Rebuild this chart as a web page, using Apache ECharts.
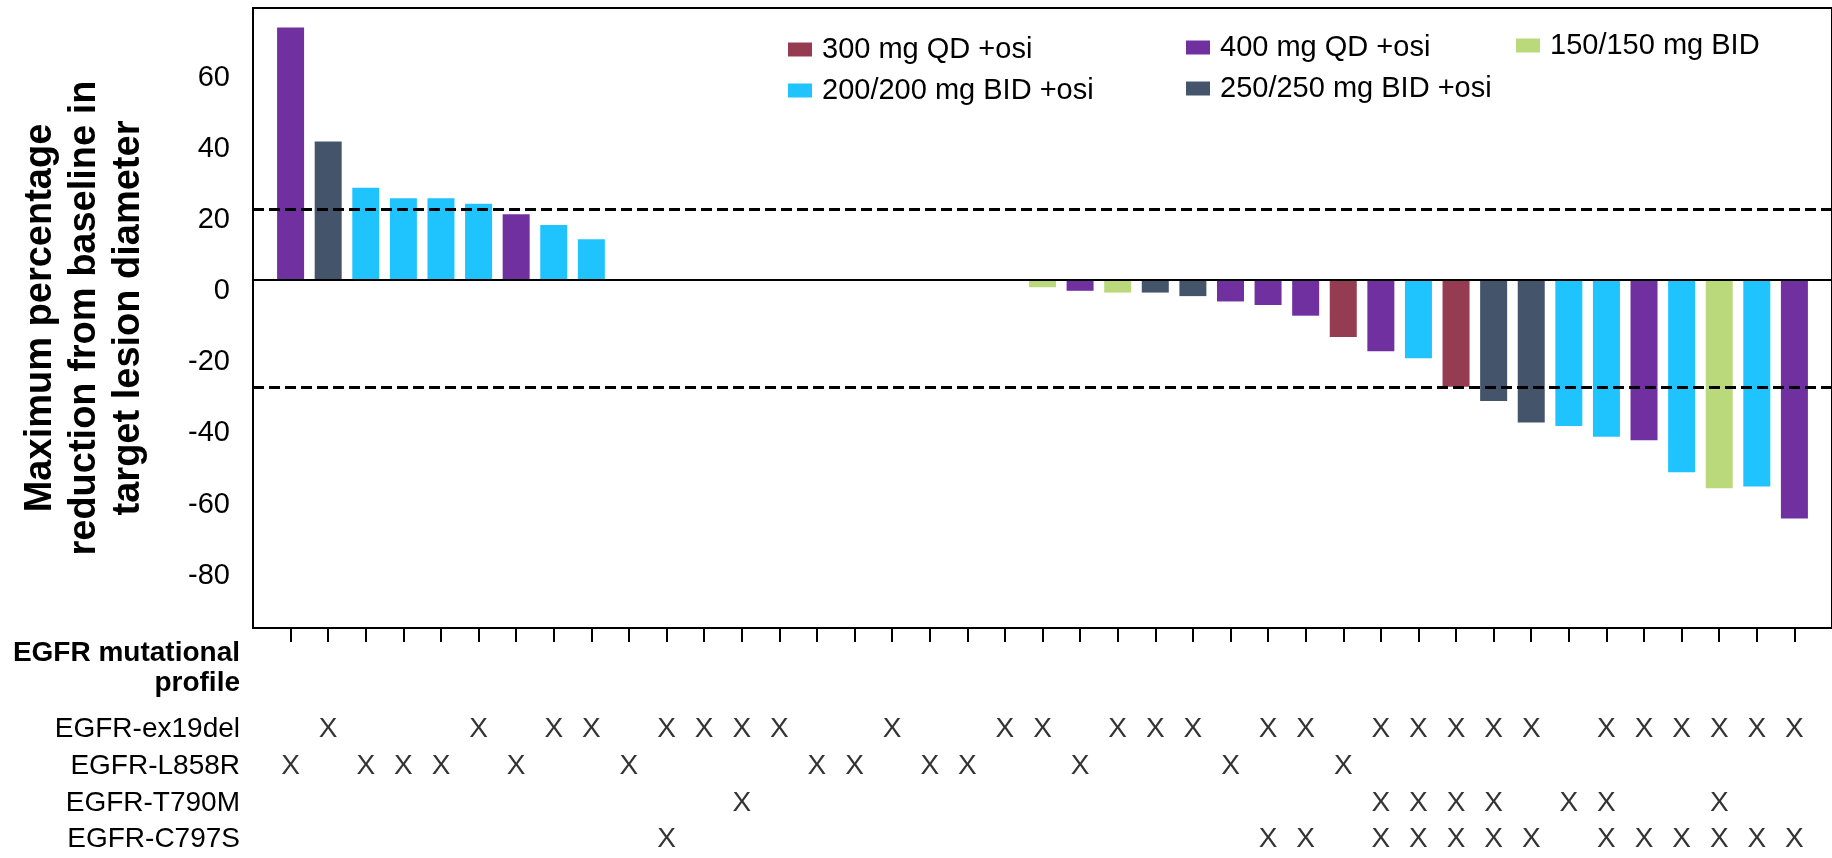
<!DOCTYPE html>
<html>
<head>
<meta charset="utf-8">
<style>
  html, body { margin: 0; padding: 0; background: #fff; }
  #chart { width: 1832px; height: 858px; }
</style>
<script src="https://cdn.jsdelivr.net/npm/echarts@6.0.0/dist/echarts.min.js"></script>
</head>
<body>
<div id="chart"></div>
<script>
// Dose cohorts, in legend order
const doseGroups = [
  '300 mg QD +osi',
  '400 mg QD +osi',
  '150/150 mg BID',
  '200/200 mg BID +osi',
  '250/250 mg BID +osi'
];

// Cohort of each patient (index into doseGroups, -1 = no bar plotted)
const patientDose = [
  1, 4, 3, 3, 3, 3, 1, 3, 3,
  -1, -1, -1, -1, -1, -1, -1, -1, -1, -1, -1,
  2, 1, 2, 4, 4, 1, 1, 1, 0, 1, 3, 0, 4, 4, 3, 3, 1, 3, 2, 3, 1
];

// Best change from baseline in target lesion diameter (%)
const maxChange = [
  71, 39, 26, 23, 23, 21.5, 18.5, 15.5, 11.5,
  null, null, null, null, null, null, null, null, null, null, null,
  -2, -3, -3.5, -3.5, -4.5, -6, -7, -10, -16, -20, -22, -30, -34, -40,
  -41, -44, -45, -54, -58.5, -58, -67
];

// Value-axis tick labels and RECIST reference lines
const yTickValues = [-80, -60, -40, -20, 0, 20, 40, 60];
const responseCutoffs = [20, -30];

// EGFR mutational profile, rows and carriers (0-based patient positions)
const mutationRows = ['EGFR-ex19del', 'EGFR-L858R', 'EGFR-T790M', 'EGFR-C797S'];
const ex19delCarriers = [1, 5, 7, 8, 10, 11, 12, 13, 16, 19, 20, 22, 23, 24, 26, 27, 29, 30, 31, 32, 33, 35, 36, 37, 38, 39, 40];
const l858rCarriers = [0, 2, 3, 4, 6, 9, 14, 15, 17, 18, 21, 25, 28];
const t790mCarriers = [12, 29, 30, 31, 32, 34, 35, 38];
const c797sCarriers = [10, 26, 27, 29, 30, 31, 32, 33, 35, 36, 37, 38, 39, 40];

// ---- styling ----
const FONT = '"Liberation Sans", Arial, Helvetica, sans-serif';
const groupColors = ['#963C52', '#7030A0', '#BAD97A', '#1FC4FE', '#44546A'];

const patients = maxChange.map((_, i) => 'Patient ' + (i + 1));
// an empty slot at each end keeps the first and last patient one step inside the frame
const slots = [''].concat(patients, ['']);

const carriersByRow = [ex19delCarriers, l858rCarriers, t790mCarriers, c797sCarriers];
const mutationPoints = [];
carriersByRow.forEach((list, r) => {
  list.forEach(p => mutationPoints.push([p + 1, r]));
});

const barSeries = doseGroups.map((name, g) => {
  const values = maxChange.map((v, i) => (patientDose[i] === g && v !== null ? v : '-'));
  return {
    name: name,
    type: 'bar',
    xAxisIndex: 0,
    yAxisIndex: 0,
    stack: 'dose',
    barWidth: 27,
    itemStyle: { color: groupColors[g] },
    data: ['-'].concat(values, ['-'])
  };
});

barSeries[0].markLine = {
  silent: true,
  symbol: 'none',
  label: { show: false },
  z: 10,
  data: [
    { yAxis: 0, lineStyle: { color: '#000', width: 2, type: 'solid' } }
  ].concat(responseCutoffs.map(v => ({
    yAxis: v,
    lineStyle: { color: '#000', width: 3, type: [11, 5] }
  })))
};

const legendCommon = {
  orient: 'vertical',
  icon: 'rect',
  itemWidth: 24,
  itemHeight: 14,
  itemGap: 12,
  selectedMode: false,
  textStyle: { fontSize: 29, color: '#000', fontFamily: FONT, padding: [0, 0, 0, 5] }
};

const option = {
  animation: false,
  backgroundColor: '#fff',
  textStyle: { fontFamily: FONT },
  legend: [
    Object.assign({ left: 783, top: 30, data: [doseGroups[0], doseGroups[3]] }, legendCommon),
    Object.assign({ left: 1181, top: 28, data: [doseGroups[1], doseGroups[4]] }, legendCommon),
    Object.assign({ left: 1511, top: 26, data: [doseGroups[2]] }, legendCommon)
  ],
  grid: [
    { left: 253, right: -19, top: 8, bottom: 230, show: true, borderColor: '#000', borderWidth: 2, backgroundColor: 'transparent' },
    { left: 253, right: -19, top: 711, bottom: -11 }
  ],
  xAxis: [
    {
      type: 'category', gridIndex: 0, data: slots, boundaryGap: false, position: 'bottom',
      axisLine: { show: false, onZero: false },
      axisLabel: { show: false },
      axisTick: {
        show: true, length: 14,
        lineStyle: { color: '#000', width: 2 },
        interval: (i) => i > 0 && i < slots.length - 1
      },
      splitLine: { show: false }
    },
    {
      type: 'category', gridIndex: 1, data: slots, boundaryGap: false, show: false
    }
  ],
  yAxis: [
    {
      type: 'value', gridIndex: 0, min: -97.8, max: 76.5,
      axisLine: { show: false },
      axisTick: { show: false },
      splitLine: { show: false },
      axisLabel: {
        customValues: yTickValues,
        fontSize: 29, color: '#000', fontFamily: FONT,
        margin: 23, verticalAlign: 'top', lineHeight: 22
      },
      name: 'Maximum percentage\nreduction from baseline in\ntarget lesion diameter',
      nameLocation: 'middle',
      nameRotate: 90,
      nameGap: 102,
      nameTextStyle: { fontSize: 38, fontWeight: 'bold', lineHeight: 44, color: '#000', fontFamily: FONT }
    },
    {
      type: 'category', gridIndex: 1, data: mutationRows, inverse: true,
      axisLine: { show: false },
      axisTick: { show: false },
      splitLine: { show: false },
      axisLabel: { fontSize: 28, color: '#000', margin: 13, fontFamily: FONT }
    }
  ],
  graphic: [
    {
      type: 'text',
      x: 240, y: 668,
      style: {
        text: 'EGFR mutational\nprofile',
        align: 'right', verticalAlign: 'middle',
        fontSize: 28, fontWeight: 'bold', lineHeight: 30,
        fontFamily: FONT, fill: '#000'
      }
    }
  ],
  series: barSeries.concat([
    {
      name: 'EGFR mutational profile',
      type: 'scatter',
      xAxisIndex: 1,
      yAxisIndex: 1,
      symbolSize: 1,
      itemStyle: { color: 'rgba(0,0,0,0)' },
      label: {
        show: true, position: 'inside', formatter: 'X',
        fontSize: 28, color: '#000', fontFamily: FONT
      },
      data: mutationPoints
    }
  ])
};

const chart = echarts.init(document.getElementById('chart'), null, { renderer: 'canvas' });
chart.setOption(option);
</script>
</body>
</html>
